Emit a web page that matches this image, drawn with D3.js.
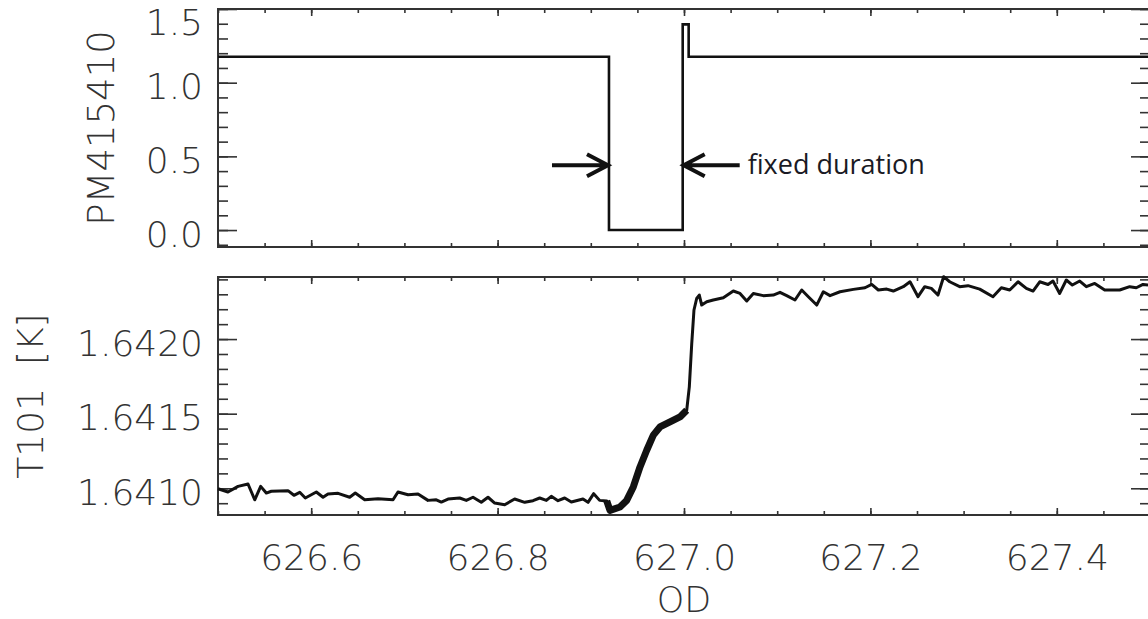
<!DOCTYPE html>
<html lang="en">
<head>
<meta charset="utf-8">
<script src="https://d3js.org/d3.v7.min.js"></script>
<style>
  body { margin: 0; background: #fff; }
  .lbl { font-family: "DejaVu Sans", sans-serif; font-weight: 300; fill: #333; }
</style>
</head>
<body>
<script>
var width = 1148, height = 619;

// shared x axis (OD)
var odTicks = [626.6, 626.8, 627.0, 627.2, 627.4];

// top panel: PM415410 heater signal
var pmOD  = [626.5, 626.9195, 626.9195, 626.9986, 626.9986, 627.005, 627.005, 627.5];
var pmVal = [1.176, 1.176, 0.0, 0.0, 1.396, 1.396, 1.176, 1.176];
var pmTicks = [0.0, 0.5, 1.0, 1.5];

// bottom panel: T101 temperature [K]
var tOD = [626.5000, 626.5107, 626.5215, 626.5322, 626.5394, 626.5458, 626.5518, 626.5572, 626.5751, 626.5815,
  626.5877, 626.5937, 626.6055, 626.6127, 626.6180, 626.6288, 626.6413, 626.6473, 626.6574, 626.6717,
  626.6878, 626.6931, 626.7039, 626.7146, 626.7253, 626.7342, 626.7396, 626.7468, 626.7593, 626.7664,
  626.7736, 626.7825, 626.7897, 626.7969, 626.8076, 626.8183, 626.8291, 626.8380, 626.8452, 626.8523,
  626.8576, 626.8648, 626.8720, 626.8791, 626.8916, 626.8970, 626.9031, 626.9095, 626.9171, 626.9206,
  626.9313, 626.9385, 626.9456, 626.9528, 626.9600, 626.9671, 626.9742, 626.9850, 626.9957, 627.0029,
  627.0057, 627.0083, 627.0107, 627.0136, 627.0164, 627.0190, 627.0244, 627.0314, 627.0422, 627.0529,
  627.0601, 627.0673, 627.0744, 627.0851, 627.0958, 627.1030, 627.1102, 627.1191, 627.1263, 627.1334,
  627.1424, 627.1495, 627.1567, 627.1674, 627.1817, 627.1942, 627.2014, 627.2085, 627.2175, 627.2246,
  627.2353, 627.2425, 627.2511, 627.2583, 627.2654, 627.2725, 627.2786, 627.2851, 627.2958, 627.3047,
  627.3173, 627.3315, 627.3405, 627.3495, 627.3584, 627.3673, 627.3745, 627.3817, 627.3906, 627.3959,
  627.4031, 627.4102, 627.4167, 627.4246, 627.4317, 627.4407, 627.4514, 627.4675, 627.4782, 627.4853,
  627.4925, 627.4979];
var tVal = [1.640997, 1.640975, 1.641013, 1.641029, 1.640923, 1.641013, 1.640968, 1.640980, 1.640984, 1.640953,
  1.640973, 1.640935, 1.640975, 1.640940, 1.640962, 1.640966, 1.640940, 1.640968, 1.640923, 1.640930,
  1.640923, 1.640975, 1.640957, 1.640962, 1.640919, 1.640923, 1.640908, 1.640928, 1.640935, 1.640919,
  1.640940, 1.640906, 1.640940, 1.640901, 1.640890, 1.640928, 1.640906, 1.640917, 1.640935, 1.640919,
  1.640946, 1.640917, 1.640935, 1.640908, 1.640928, 1.640906, 1.640964, 1.640919, 1.640915, 1.640852,
  1.640875, 1.640919, 1.641009, 1.641143, 1.641255, 1.641356, 1.641411, 1.641445, 1.641478, 1.641523,
  1.641680, 1.641970, 1.642195, 1.642272, 1.642295, 1.642228, 1.642250, 1.642262, 1.642277, 1.642322,
  1.642306, 1.642255, 1.642306, 1.642291, 1.642295, 1.642313, 1.642291, 1.642262, 1.642329, 1.642284,
  1.642228, 1.642317, 1.642291, 1.642317, 1.642333, 1.642344, 1.642366, 1.642329, 1.642335, 1.642322,
  1.642351, 1.642384, 1.642284, 1.642351, 1.642340, 1.642295, 1.642418, 1.642384, 1.642351, 1.642358,
  1.642335, 1.642284, 1.642344, 1.642329, 1.642384, 1.642340, 1.642322, 1.642384, 1.642366, 1.642389,
  1.642306, 1.642396, 1.642362, 1.642389, 1.642351, 1.642373, 1.642329, 1.642329, 1.642351, 1.642344,
  1.642366, 1.642362];
var tTicks = [1.6410, 1.6415, 1.6420];

// dense (noisy sampling) part of the temperature trace
var denseStart = 626.917, denseEnd = 627.003;

var left = 218, right = 1150;
var topPanel = {top: 9, bottom: 247};
var botPanel = {top: 277, bottom: 515};

var svg = d3.select("body").append("svg")
    .attr("width", width)
    .attr("height", height);

var x = d3.scaleLinear().domain([626.5, 627.5]).range([left, right]);
var xMinor = d3.range(626.5, 627.501, 0.05);

var yPM = d3.scaleLinear().domain([-0.115, 1.5]).range([topPanel.bottom, topPanel.top]);
var yT = d3.scaleLinear().domain([1.640821, 1.642416]).range([botPanel.bottom, botPanel.top]);

function drawFrame(p, y, major, minor, fmt) {
    var g = svg.append("g");
    // minor ticks
    g.append("g").attr("transform", "translate(0," + p.bottom + ")")
        .call(d3.axisBottom(x).tickValues(xMinor).tickSize(-4).tickFormat(""));
    g.append("g").attr("transform", "translate(0," + p.top + ")")
        .call(d3.axisTop(x).tickValues(xMinor).tickSize(-4).tickFormat(""));
    g.append("g").attr("transform", "translate(" + left + ",0)")
        .call(d3.axisLeft(y).tickValues(minor).tickSize(-10).tickFormat(""));
    g.append("g").attr("transform", "translate(" + right + ",0)")
        .call(d3.axisRight(y).tickValues(minor).tickSize(-10).tickFormat(""));
    // major ticks
    g.append("g").attr("transform", "translate(0," + p.top + ")")
        .call(d3.axisTop(x).tickValues(odTicks).tickSize(-7).tickFormat(""));
    g.append("g").attr("transform", "translate(" + right + ",0)")
        .call(d3.axisRight(y).tickValues(major).tickSize(-19).tickFormat(""));
    var yl = g.append("g").attr("class", "yaxis").attr("transform", "translate(" + left + ",0)")
        .call(d3.axisLeft(y).tickValues(major).tickSize(-19).tickPadding(15).tickFormat(fmt));
    yl.selectAll("text").attr("class", "lbl").style("font-size", "36px").attr("dy", "0.45em");
    g.selectAll(".domain").remove();
    g.selectAll(".tick line").attr("stroke", "#333").attr("stroke-width", 1.6);
    g.append("rect")
        .attr("x", left).attr("y", p.top)
        .attr("width", right - left).attr("height", p.bottom - p.top)
        .attr("fill", "none").attr("stroke", "#333").attr("stroke-width", 2);
    return g;
}

// top panel
var gTop = drawFrame(topPanel, yPM, pmTicks, d3.range(-0.1, 1.51, 0.1), d3.format(".1f"));
gTop.append("g").attr("transform", "translate(0," + topPanel.bottom + ")")
    .call(d3.axisBottom(x).tickValues(odTicks).tickSize(-7).tickFormat(""))
    .call(function(a) { a.select(".domain").remove(); a.selectAll("line").attr("stroke", "#333").attr("stroke-width", 1.6); });
// the 1.5 label sits a bit lower so it stays inside the picture
gTop.select(".yaxis").selectAll(".tick").filter(function(d) { return d === 1.5; })
    .select("text").attr("dy", "0.72em");

var pmLine = d3.line().x(function(d) { return x(d[0]); }).y(function(d) { return yPM(d[1]); });
svg.append("path")
    .datum(d3.zip(pmOD, pmVal))
    .attr("d", pmLine)
    .attr("fill", "none").attr("stroke", "#111").attr("stroke-width", 2.6);

// annotation: fixed duration arrows
var arrowY = yPM(0.44);
var fallX = x(pmOD[1]), riseX = x(pmOD[3]);
function arrow(tip, dir) {
    var tail = tip - dir * 56;
    svg.append("path")
        .attr("d", "M" + tail + "," + arrowY + "L" + tip + "," + arrowY +
            "M" + (tip - dir * 21) + "," + (arrowY - 11) + "L" + tip + "," + arrowY +
            "L" + (tip - dir * 21) + "," + (arrowY + 11))
        .attr("fill", "none").attr("stroke", "#111").attr("stroke-width", 4);
}
arrow(fallX - 1, 1);
arrow(riseX + 1, -1);
svg.append("text")
    .attr("x", riseX + 65).attr("y", arrowY + 9)
    .style("font-family", "'Open Sans', sans-serif").style("font-size", "27px")
    .attr("fill", "#1a1a24")
    .text("fixed duration");

// bottom panel
var gBot = drawFrame(botPanel, yT, tTicks, d3.range(1.6409, 1.64242, 0.0001), d3.format(".4f"));
var xl = gBot.append("g").attr("transform", "translate(0," + botPanel.bottom + ")")
    .call(d3.axisBottom(x).tickValues(odTicks).tickSize(-7).tickPadding(29).tickFormat(d3.format(".1f")));
xl.select(".domain").remove();
xl.selectAll("line").attr("stroke", "#333").attr("stroke-width", 1.6);
xl.selectAll("text").attr("class", "lbl").style("font-size", "36px");

var tData = d3.zip(tOD, tVal);
var tLine = d3.line().x(function(d) { return x(d[0]); }).y(function(d) { return yT(d[1]); });
svg.append("path")
    .datum(tData)
    .attr("d", tLine)
    .attr("fill", "none").attr("stroke", "#111").attr("stroke-width", 3)
    .attr("stroke-linejoin", "round");
svg.append("path")
    .datum(tData.filter(function(d) { return d[0] >= denseStart && d[0] <= denseEnd; }))
    .attr("d", tLine)
    .attr("fill", "none").attr("stroke", "#111").attr("stroke-width", 7)
    .attr("stroke-linejoin", "round");

// axis titles
svg.append("text").attr("class", "lbl")
    .attr("transform", "translate(114," + (topPanel.top + topPanel.bottom) / 2 + ") rotate(-90)")
    .attr("text-anchor", "middle").style("font-size", "37px")
    .text("PM415410");
svg.append("text").attr("class", "lbl")
    .attr("transform", "translate(43," + (botPanel.top + botPanel.bottom) / 2 + ") rotate(-90)")
    .attr("text-anchor", "middle").style("font-size", "36px")
    .attr("xml:space", "preserve")
    .style("white-space", "pre")
    .text("T101  [K]");
svg.append("text").attr("class", "lbl")
    .attr("x", (left + right) / 2).attr("y", 612)
    .attr("text-anchor", "middle").style("font-size", "35px")
    .text("OD");
</script>
</body>
</html>
